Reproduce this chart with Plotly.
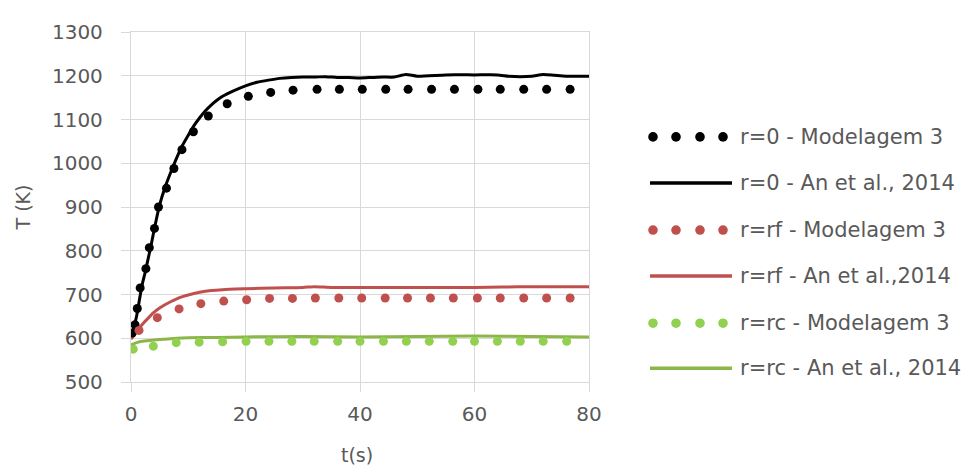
import plotly.graph_objects as go

# ---------------- data ----------------
series_names = [
    "r=0 - Modelagem 3",
    "r=0 - An et al., 2014",
    "r=rf - Modelagem 3",
    "r=rf - An et al.,2014",
    "r=rc - Modelagem 3",
    "r=rc - An et al., 2014",
]

# r = 0, Modelagem 3 (dots)
t_r0_model = [0.2, 0.7, 1.1, 1.6, 2.6, 3.2, 4.1, 4.8, 6.2, 7.5, 8.9, 10.9, 13.5, 16.8,
              20.5, 24.4, 28.3, 32.5, 36.4, 40.4, 44.5, 48.4, 52.5, 56.5, 60.6, 64.5,
              68.6, 72.6, 76.7]
T_r0_model = [612, 631, 668, 715, 759, 807, 851, 900, 943, 988, 1031, 1072, 1108, 1136,
              1153, 1162, 1167, 1169, 1169, 1169, 1169, 1169, 1169, 1169, 1169, 1169,
              1169, 1169, 1169]

# r = 0, An et al., 2014 (line)
t_r0_an = [0, 0.5, 1, 1.5, 2, 2.5, 3, 3.5, 4, 4.5, 5, 6, 7, 8, 9, 10, 11, 12, 13, 14,
           15, 16, 18, 20, 22, 24, 26, 28, 30, 32, 34, 36, 38, 40, 42, 44, 46, 48, 50,
           55, 60, 64, 66, 68, 70, 72, 74, 76, 80]
T_r0_an = [605, 625, 652, 690, 725, 752, 782, 812, 845, 876, 905, 947, 981, 1013, 1041,
           1064, 1086, 1104, 1120, 1133, 1144, 1153, 1166, 1177, 1185, 1190, 1194, 1196,
           1197, 1197, 1198, 1196, 1196, 1195, 1196, 1197, 1197, 1203, 1199, 1202, 1202,
           1202, 1199, 1198, 1199, 1203, 1201, 1199, 1199]

# r = rf, Modelagem 3 (dots)
t_rf_model = [1.4, 4.6, 8.4, 12.2, 16.2, 20.2, 24.2, 28.2, 32.2, 36.3, 40.3, 44.4, 48.3,
              52.3, 56.3, 60.5, 64.5, 68.6, 72.6, 76.7]
T_rf_model = [618, 647, 667, 679, 685, 688, 691, 691, 692, 692, 692, 692, 692,
              692, 692, 692, 692, 692, 692, 692]

# r = rf, An et al., 2014 (line)
t_rf_an = [0, 0.5, 1, 2, 3, 4, 5, 6, 7, 8, 9, 10, 12, 14, 16, 20, 25, 30, 32, 35, 40,
           50, 60, 65, 70, 80]
T_rf_an = [598, 606, 615, 632, 646, 659, 669, 677, 684, 690, 695, 699, 705, 709, 711,
           713, 715, 716, 718, 716, 716, 716, 716, 717, 718, 718]

# r = rc, Modelagem 3 (dots)
t_rc_model = [0.4, 3.9, 7.9, 11.9, 16.0, 20.1, 24.1, 28.1, 32.0, 36.1, 40.0, 44.1, 48.1,
              52.1, 56.2, 60.0, 64.0, 68.0, 72.0, 76.1]
T_rc_model = [575, 582, 590, 591, 592, 593, 593, 593, 593, 593, 593, 593, 593,
              593, 593, 593, 593, 593, 593, 593]

# r = rc, An et al., 2014 (line)
t_rc_an = [0, 1, 2, 4, 6, 8, 10, 15, 20, 30, 40, 50, 60, 70, 80]
T_rc_an = [585, 590, 593, 596, 598, 600, 601, 602, 603, 604, 603, 604, 605, 604, 603]

x_ticks = [0, 20, 40, 60, 80]
y_ticks = [500, 600, 700, 800, 900, 1000, 1100, 1200, 1300]

# ---------------- style ----------------
BLACK = "#000000"
RED = "#c0504d"
GREEN_DOT = "#92d050"
GREEN_LINE = "#8cb648"
TXT = "#595959"
GRID = "#d9d9d9"
FONT = "DejaVu Sans"

OFF = 8                      # page body margin offset
W, H = 971 - OFF, 468 - OFF
L, R, T, B = 131 - OFF, 382, 25 - OFF, 86
PW, PH = W - L - R, H - T - B

fig = go.Figure()

series = [
    (t_r0_model, T_r0_model, "dots", BLACK),
    (t_r0_an, T_r0_an, "line", BLACK),
    (t_rf_model, T_rf_model, "dots", RED),
    (t_rf_an, T_rf_an, "line", RED),
    (t_rc_model, T_rc_model, "dots", GREEN_DOT),
    (t_rc_an, T_rc_an, "line", GREEN_LINE),
]

# draw lines first, then dots on top
draw_order = [1, 3, 5, 0, 2, 4]
for i in draw_order:
    xs, ys, kind, col = series[i]
    if kind == "line":
        fig.add_trace(go.Scatter(x=xs, y=ys, mode="lines", name=series_names[i],
                                 line=dict(color=col, width=3, shape="spline", smoothing=0.6),
                                 showlegend=False))
    else:
        fig.add_trace(go.Scatter(x=xs, y=ys, mode="markers", name=series_names[i],
                                 marker=dict(color=col, size=9, line=dict(width=0)),
                                 showlegend=False))

# ---------------- hand-made legend (Excel style) ----------------
def px_x(px):
    return (px - OFF - L) / PW

def px_y(py):
    return (H - B - (py - OFF)) / PH

shapes = []
annotations = []
row_y = [132, 179, 227, 274, 322, 368]
dot_x = [653, 676, 700, 723]
for i, (xs, ys, kind, col) in enumerate(series):
    yy = px_y(row_y[i])
    if kind == "dots":
        for dx in dot_x:
            shapes.append(dict(type="circle", xref="paper", yref="paper",
                               xsizemode="pixel", ysizemode="pixel",
                               xanchor=px_x(dx), yanchor=yy,
                               x0=-4.8, x1=4.8, y0=-4.8, y1=4.8,
                               fillcolor=col, line=dict(width=0)))
    else:
        shapes.append(dict(type="line", xref="paper", yref="paper",
                           x0=px_x(650), x1=px_x(732), y0=yy, y1=yy,
                           line=dict(color=col, width=3.5)))
    annotations.append(dict(text=series_names[i], xref="paper", yref="paper",
                            x=px_x(738), y=yy, xanchor="left", yanchor="middle",
                            showarrow=False, font=dict(size=21, color=TXT, family=FONT)))

# axis titles
annotations.append(dict(text="T (K)", xref="paper", yref="paper", x=px_x(23), y=px_y(204),
                        textangle=-90, showarrow=False, xanchor="center", yanchor="middle",
                        font=dict(size=19, color=TXT, family=FONT)))
annotations.append(dict(text="t(s)", xref="paper", yref="paper", x=px_x(357), y=px_y(456),
                        showarrow=False, xanchor="center", yanchor="middle",
                        font=dict(size=19, color=TXT, family=FONT)))

fig.update_layout(
    width=W, height=H,
    margin=dict(l=L, r=R, t=T, b=B, pad=0),
    paper_bgcolor="white", plot_bgcolor="white",
    font=dict(family=FONT, color=TXT, size=20),
    shapes=shapes, annotations=annotations,
    showlegend=False,
)
fig.update_xaxes(range=[0, 80], tickvals=x_ticks, ticktext=[str(v) for v in x_ticks],
                 showgrid=True, gridcolor=GRID, gridwidth=1.3,
                 showline=True, linecolor=GRID, linewidth=1.3, mirror=True,
                 ticks="outside", ticklen=9, tickcolor=GRID, tickwidth=1.3,
                 zeroline=False, ticklabelstandoff=5,
                 tickfont=dict(size=20, color=TXT, family=FONT))
fig.update_yaxes(range=[500, 1300], tickvals=y_ticks, ticktext=[str(v) for v in y_ticks],
                 showgrid=True, gridcolor=GRID, gridwidth=1.3,
                 showline=True, linecolor=GRID, linewidth=1.3, mirror=True,
                 ticks="outside", ticklen=9, tickcolor=GRID, tickwidth=1.3,
                 zeroline=False, ticklabelstandoff=14,
                 tickfont=dict(size=20, color=TXT, family=FONT))

fig.write_html("out.html")
